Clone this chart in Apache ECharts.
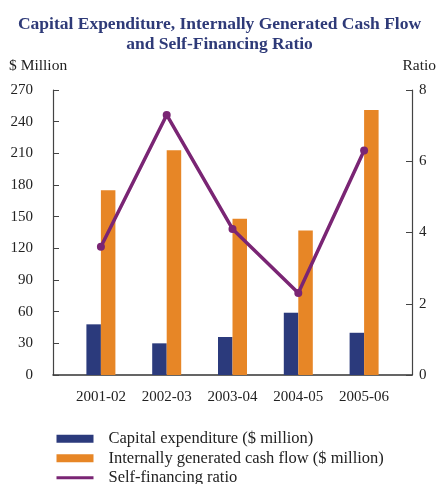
<!DOCTYPE html>
<html>
<head>
<meta charset="utf-8">
<style>
  html, body { margin: 0; padding: 0; background: #fff; }
  #chart { width: 439px; height: 484px; }
</style>
<script src="https://cdn.jsdelivr.net/npm/echarts@6/dist/echarts.min.js"></script>
</head>
<body>
<div id="chart"></div>
<script>
// Financial years
const years = ['2001-02', '2002-03', '2003-04', '2004-05', '2005-06'];
// Capital expenditure ($ million)
const capitalExpenditure = [48, 30, 36, 59, 40];
// Internally generated cash flow ($ million)
const cashFlow = [175, 213, 148, 137, 251];
// Self-financing ratio
const selfFinancingRatio = [3.6, 7.3, 4.1, 2.3, 6.3];

const NAVY = '#2b3a7c';
const ORANGE = '#e78626';
const PURPLE = '#7a2574';
const SERIF = '"Liberation Serif", "DejaVu Serif", serif';
const TEXT = '#222';

const chart = echarts.init(document.getElementById('chart'), null, { renderer: 'canvas' });

const option = {
  animation: false,
  backgroundColor: '#fff',
  title: {
    text: 'Capital Expenditure, Internally Generated Cash Flow\nand Self-Financing Ratio',
    left: 'center',
    top: 9,
    textStyle: {
      fontFamily: SERIF,
      fontWeight: 'bold',
      fontSize: 17.5,
      lineHeight: 20,
      color: '#2e3a78'
    }
  },
  legend: {
    orient: 'vertical',
    left: 55,
    top: 430,
    height: 60,
    padding: 0,
    itemWidth: 37,
    itemHeight: 8,
    itemGap: 2,
    textStyle: { fontFamily: SERIF, fontSize: 16.5, lineHeight: 17.5, color: TEXT, padding: [0, 0, 0, 10] },
    data: [
      { name: 'Capital expenditure ($ million)', icon: 'rect' },
      { name: 'Internally generated cash flow ($ million)', icon: 'rect' },
      { name: 'Self-financing ratio', itemStyle: { opacity: 0 }, lineStyle: { width: 3 } }
    ]
  },
  grid: [
    // plotting area holding the bars and the ratio line
    { left: 68, width: 329, top: 90, height: 285 },
    // frame carrying the two value axes and the full-width baseline
    { left: 53, width: 360, top: 90, height: 285 }
  ],
  xAxis: [
    {
      type: 'category',
      gridIndex: 0,
      data: years,
      axisLine: { show: false },
      axisTick: { show: false },
      axisLabel: { fontFamily: SERIF, fontSize: 15, color: TEXT, margin: 15 }
    },
    {
      type: 'value',
      gridIndex: 1,
      min: 0,
      max: 1,
      axisLine: { show: true, onZero: false, lineStyle: { color: '#333', width: 1.5 } },
      axisTick: { show: false },
      axisLabel: { show: false },
      splitLine: { show: false }
    }
  ],
  yAxis: [
    // hidden scales used by the series
    { type: 'value', gridIndex: 0, min: 0, max: 270, interval: 30, show: false },
    { type: 'value', gridIndex: 0, min: 0, max: 8, interval: 2, show: false },
    // visible left axis ($ million)
    {
      type: 'value',
      gridIndex: 1,
      position: 'left',
      min: 0, max: 270, interval: 30,
      name: '$ Million',
      nameLocation: 'end',
      nameGap: 16,
      nameTextStyle: { fontFamily: SERIF, fontSize: 15.5, color: TEXT, align: 'left', padding: [0, 0, 0, -44] },
      axisLine: { show: true, lineStyle: { color: '#444', width: 1.2 } },
      axisTick: { show: true, inside: true, length: 6, lineStyle: { color: '#444' } },
      axisLabel: { fontFamily: SERIF, fontSize: 15, color: TEXT, margin: 20 },
      splitLine: { show: false }
    },
    // visible right axis (ratio)
    {
      type: 'value',
      gridIndex: 1,
      position: 'right',
      min: 0, max: 8, interval: 2,
      name: 'Ratio',
      nameLocation: 'end',
      nameGap: 16,
      nameTextStyle: { fontFamily: SERIF, fontSize: 15.5, color: TEXT, align: 'right', padding: [0, -24, 0, 0] },
      axisLine: { show: true, lineStyle: { color: '#444', width: 1.2 } },
      axisTick: { show: true, inside: true, length: 6, lineStyle: { color: '#444' } },
      axisLabel: { fontFamily: SERIF, fontSize: 15, color: TEXT, margin: 7 },
      splitLine: { show: false }
    }
  ],
  series: [
    {
      name: 'Capital expenditure ($ million)',
      type: 'bar',
      xAxisIndex: 0,
      yAxisIndex: 0,
      data: capitalExpenditure,
      barWidth: 14.5,
      barGap: '0%',
      itemStyle: { color: NAVY }
    },
    {
      name: 'Internally generated cash flow ($ million)',
      type: 'bar',
      xAxisIndex: 0,
      yAxisIndex: 0,
      data: cashFlow,
      barWidth: 14.5,
      barGap: '0%',
      itemStyle: { color: ORANGE }
    },
    {
      name: 'Self-financing ratio',
      type: 'line',
      xAxisIndex: 0,
      yAxisIndex: 1,
      data: selfFinancingRatio,
      symbol: 'circle',
      symbolSize: 8,
      lineStyle: { color: PURPLE, width: 3.5 },
      itemStyle: { color: PURPLE },
      z: 5
    }
  ]
};

chart.setOption(option);
</script>
</body>
</html>
